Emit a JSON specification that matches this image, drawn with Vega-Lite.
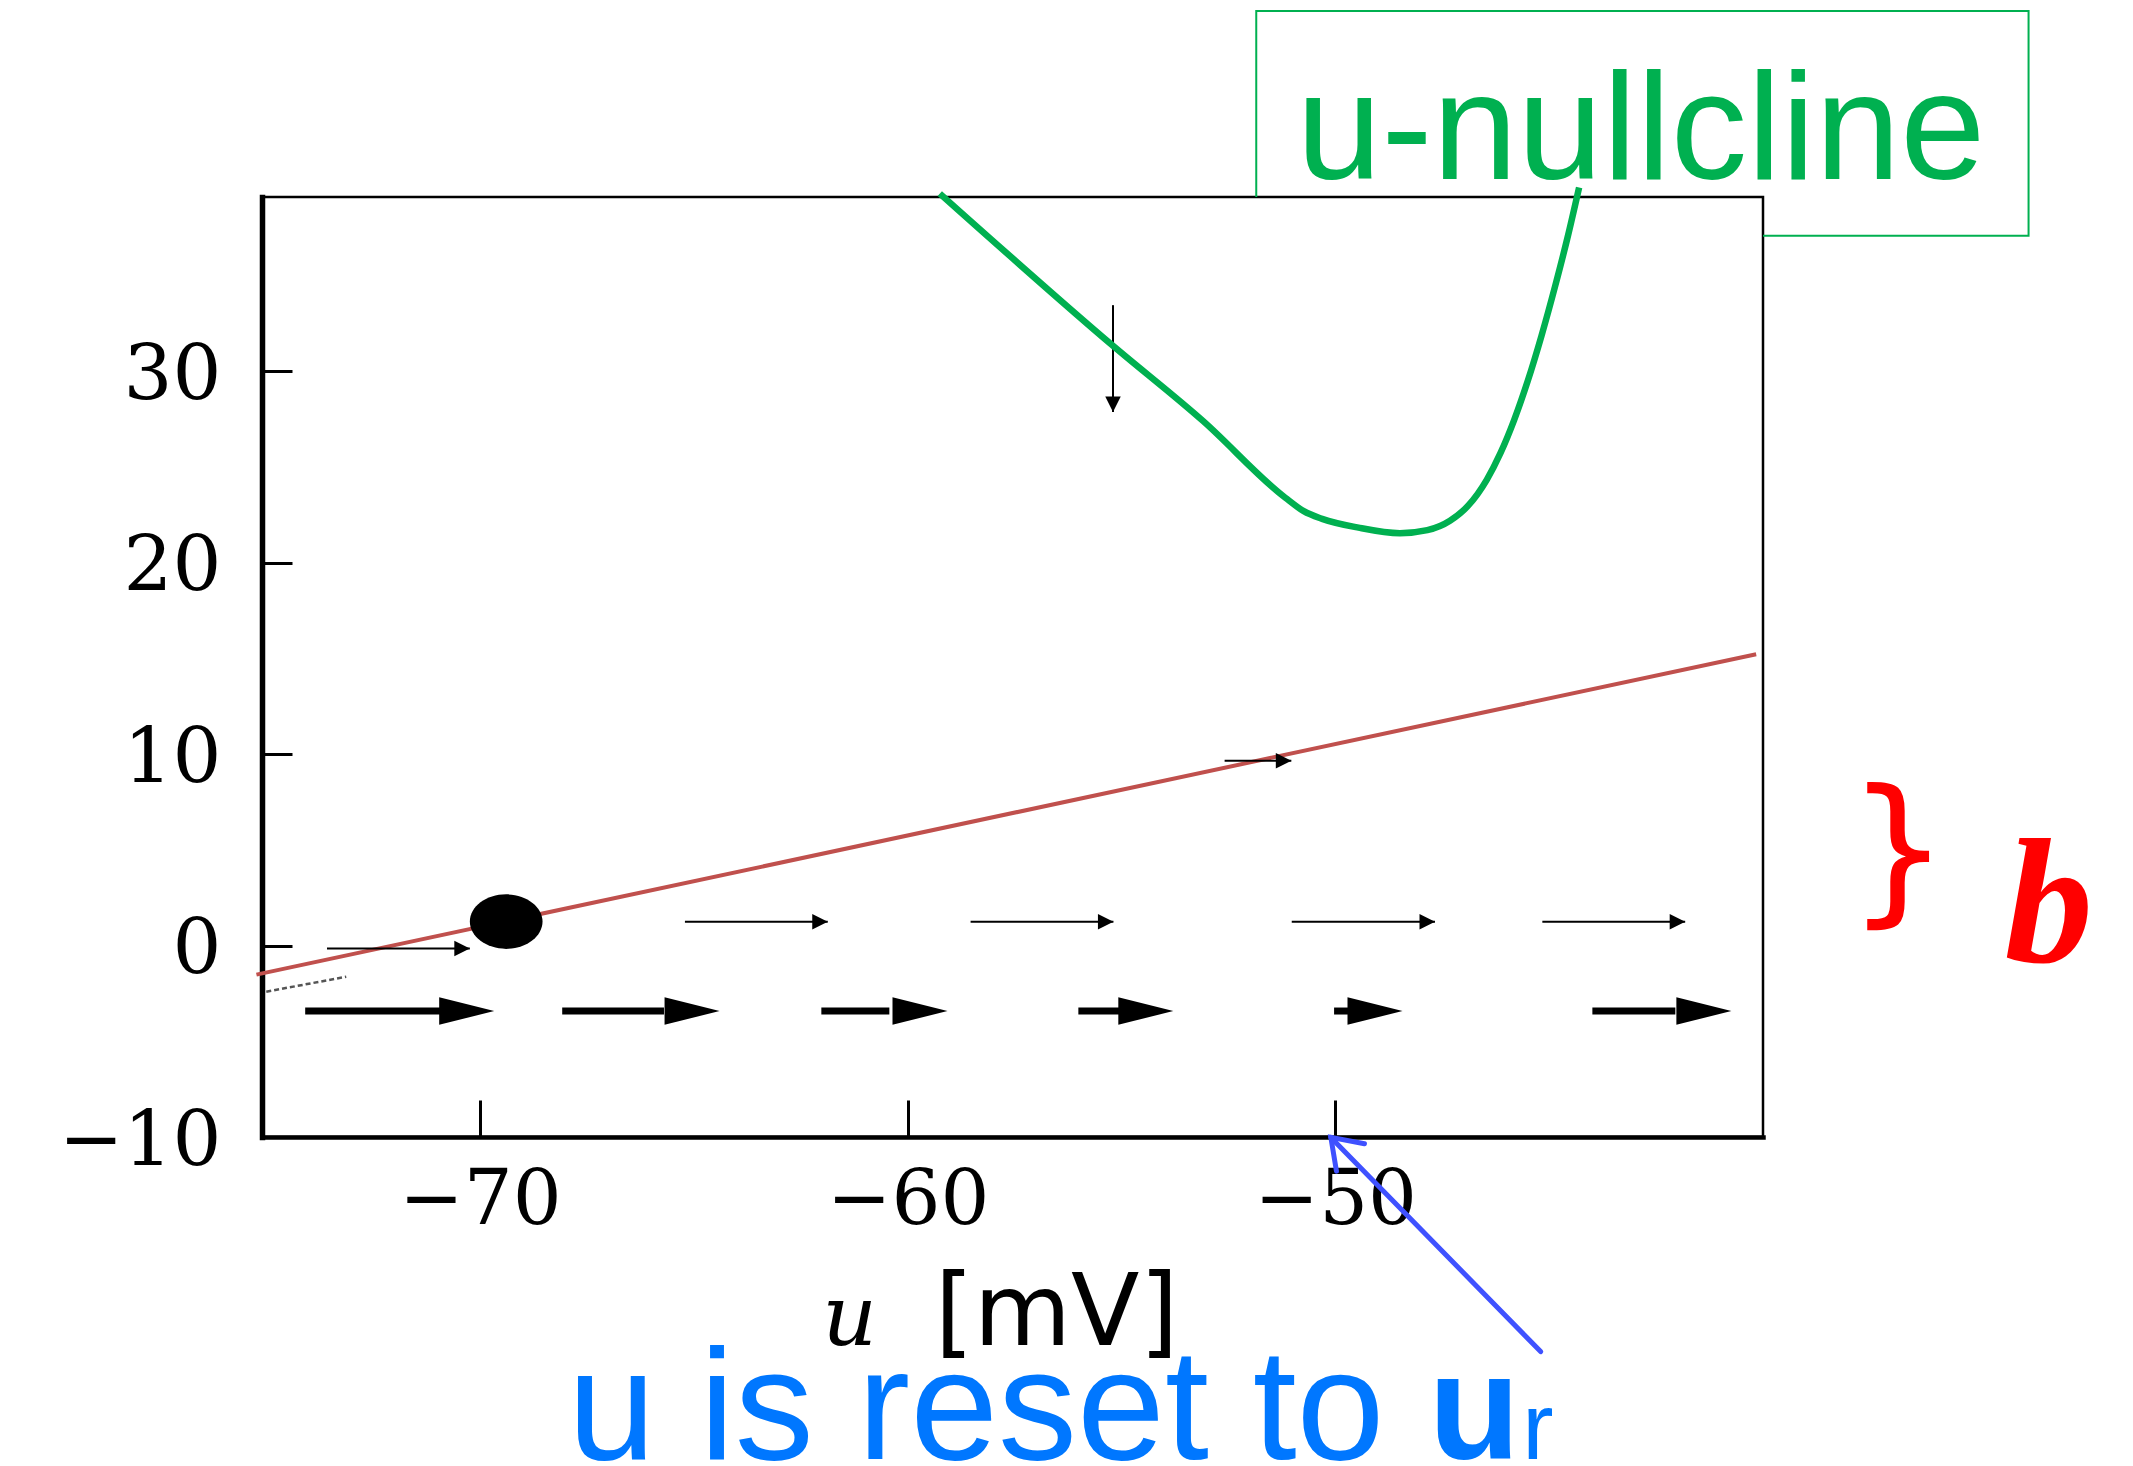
{
  "$schema": "https://vega.github.io/schema/vega-lite/v6.json",
  "width": 1501,
  "height": 940,
  "autosize": {"type": "none"},
  "padding": {"left": 262, "top": 197, "right": 370, "bottom": 329},
  "background": "white",
  "config": {
    "view": {"stroke": "black", "strokeWidth": 2.5},
    "axis": {"grid": false, "domainColor": "black", "tickColor": "black", "labelColor": "black", "labelFont": "DejaVu Serif", "labelFontSize": 77, "tickWidth": 3, "labelFlush": false, "labelOverlap": false, "domainCap": "square"},
    "axisX": {"tickSize": -37, "labelPadding": 62, "domainWidth": 4.5},
    "axisY": {"tickSize": -30, "labelPadding": 71, "labelOffset": 4, "labelBaseline": "middle", "domainWidth": 5.5}
  },
  "datasets": {
    "wNullcline": [{"u": -75.23, "w": -1.52}, {"u": -40.16, "w": 15.22}],
    "trajectory": [{"u": -75.0, "w": -2.41}, {"u": -73.13, "w": -1.63}],
    "uNullcline": [
      {"i": 1, "u": -59.25, "w": 39.28}, {"i": 2, "u": -55.18, "w": 31.29}, {"i": 3, "u": -53.09, "w": 27.39},
      {"i": 4, "u": -51.17, "w": 23.39}, {"i": 5, "u": -50.74, "w": 22.69}, {"i": 6, "u": -50.31, "w": 22.29},
      {"i": 7, "u": -49.46, "w": 21.83}, {"i": 8, "u": -48.49, "w": 21.54}, {"i": 9, "u": -47.85, "w": 21.7},
      {"i": 10, "u": -47.32, "w": 22.19}, {"i": 11, "u": -46.89, "w": 22.99}, {"i": 12, "u": -46.46, "w": 24.33},
      {"i": 13, "u": -46.14, "w": 25.72}, {"i": 14, "u": -45.82, "w": 27.45}, {"i": 15, "u": -45.5, "w": 29.5},
      {"i": 16, "u": -45.18, "w": 31.85}, {"i": 17, "u": -44.86, "w": 34.45}, {"i": 18, "u": -44.58, "w": 36.9},
      {"i": 19, "u": -44.3, "w": 39.6}
    ],
    "thickArrows": [
      {"u1": -74.09, "neck": -70.91, "tip": -69.67, "w": -3.42},
      {"u1": -68.08, "neck": -65.7, "tip": -64.4, "w": -3.42},
      {"u1": -62.02, "neck": -60.43, "tip": -59.07, "w": -3.42},
      {"u1": -56.01, "neck": -55.04, "tip": -53.79, "w": -3.42},
      {"u1": -50.03, "neck": -49.68, "tip": -48.43, "w": -3.42},
      {"u1": -43.99, "neck": -42.05, "tip": -40.74, "w": -3.42}
    ],
    "thinArrows": [
      {"u1": -73.58, "w1": -0.15, "u2": -70.24, "w2": -0.15, "dir": 0},
      {"u1": -65.21, "w1": 1.24, "u2": -61.87, "w2": 1.24, "dir": 0},
      {"u1": -58.53, "w1": 1.24, "u2": -55.19, "w2": 1.24, "dir": 0},
      {"u1": -51.02, "w1": 1.24, "u2": -47.67, "w2": 1.24, "dir": 0},
      {"u1": -45.16, "w1": 1.24, "u2": -41.82, "w2": 1.24, "dir": 0},
      {"u1": -52.59, "w1": 9.65, "u2": -51.03, "w2": 9.65, "dir": 0},
      {"u1": -55.2, "w1": 33.45, "u2": -55.2, "w2": 27.87, "dir": 90}
    ],
    "fixedPoint": [{"u": -69.39, "w": 1.25}],
    "labelBox": [
      {"i": 1, "u": -51.85, "w": 39.1}, {"i": 2, "u": -51.85, "w": 48.81}, {"i": 3, "u": -33.79, "w": 48.81},
      {"i": 4, "u": -33.79, "w": 37.08}, {"i": 5, "u": -40.0, "w": 37.08}
    ],
    "resetArrow": [{"u1": -45.2, "w1": -21.21, "u2": -50.105, "w2": -10.02}]
  },
  "layer": [
    {
      "data": {"name": "wNullcline"},
      "mark": {"type": "line", "color": "#C0504D", "strokeWidth": 4, "clip": false},
      "encoding": {
        "x": {"field": "u", "type": "quantitative", "scale": {"domain": [-75.1, -40], "nice": false, "zero": false}, "axis": {"title": null, "values": [-70, -60, -50], "domainWidth": 4.5}},
        "y": {"field": "w", "type": "quantitative", "scale": {"domain": [-10, 39.1], "nice": false, "zero": false}, "axis": {"title": null, "values": [-10, 0, 10, 20, 30], "domainWidth": 5.5}}
      }
    },
    {
      "data": {"name": "labelBox"},
      "mark": {"type": "line", "color": "#00B050", "strokeWidth": 2, "clip": false},
      "encoding": {
        "x": {"field": "u", "type": "quantitative", "scale": {"domain": [-75.1, -40], "nice": false, "zero": false}, "axis": {"title": null, "values": [-70, -60, -50], "domainWidth": 4.5}},
        "y": {"field": "w", "type": "quantitative", "scale": {"domain": [-10, 39.1], "nice": false, "zero": false}, "axis": {"title": null, "values": [-10, 0, 10, 20, 30], "domainWidth": 5.5}},
        "order": {"field": "i", "type": "quantitative"}
      }
    },
    {
      "data": {"name": "trajectory"},
      "mark": {"type": "line", "color": "#555555", "strokeWidth": 2.5, "strokeDash": [5, 3], "clip": false},
      "encoding": {
        "x": {"field": "u", "type": "quantitative", "scale": {"domain": [-75.1, -40], "nice": false, "zero": false}, "axis": {"title": null, "values": [-70, -60, -50], "domainWidth": 4.5}},
        "y": {"field": "w", "type": "quantitative", "scale": {"domain": [-10, 39.1], "nice": false, "zero": false}, "axis": {"title": null, "values": [-10, 0, 10, 20, 30], "domainWidth": 5.5}}
      }
    },
    {
      "data": {"name": "thickArrows"},
      "mark": {"type": "rule", "color": "black", "strokeWidth": 7, "strokeCap": "butt"},
      "encoding": {
        "x": {"field": "u1", "type": "quantitative", "scale": {"domain": [-75.1, -40], "nice": false, "zero": false}, "axis": {"title": null, "values": [-70, -60, -50], "domainWidth": 4.5}},
        "x2": {"field": "neck"},
        "y": {"field": "w", "type": "quantitative", "scale": {"domain": [-10, 39.1], "nice": false, "zero": false}, "axis": {"title": null, "values": [-10, 0, 10, 20, 30], "domainWidth": 5.5}}
      }
    },
    {
      "data": {"name": "thickArrows"},
      "mark": {"type": "point", "shape": "M 0 0 L -2 -0.5 L -2 0.5 Z", "filled": true, "color": "black", "opacity": 1, "size": 3025, "strokeWidth": 0},
      "encoding": {
        "x": {"field": "tip", "type": "quantitative", "scale": {"domain": [-75.1, -40], "nice": false, "zero": false}, "axis": {"title": null, "values": [-70, -60, -50], "domainWidth": 4.5}},
        "y": {"field": "w", "type": "quantitative", "scale": {"domain": [-10, 39.1], "nice": false, "zero": false}, "axis": {"title": null, "values": [-10, 0, 10, 20, 30], "domainWidth": 5.5}}
      }
    },
    {
      "data": {"name": "thinArrows"},
      "mark": {"type": "rule", "color": "black", "strokeWidth": 2, "strokeCap": "butt"},
      "encoding": {
        "x": {"field": "u1", "type": "quantitative", "scale": {"domain": [-75.1, -40], "nice": false, "zero": false}, "axis": {"title": null, "values": [-70, -60, -50], "domainWidth": 4.5}},
        "x2": {"field": "u2"},
        "y": {"field": "w1", "type": "quantitative", "scale": {"domain": [-10, 39.1], "nice": false, "zero": false}, "axis": {"title": null, "values": [-10, 0, 10, 20, 30], "domainWidth": 5.5}},
        "y2": {"field": "w2"}
      }
    },
    {
      "data": {"name": "thinArrows"},
      "mark": {"type": "point", "shape": "M 0 0 L -2 -1 L -2 1 Z", "filled": true, "color": "black", "opacity": 1, "size": 240, "strokeWidth": 0},
      "encoding": {
        "x": {"field": "u2", "type": "quantitative", "scale": {"domain": [-75.1, -40], "nice": false, "zero": false}, "axis": {"title": null, "values": [-70, -60, -50], "domainWidth": 4.5}},
        "y": {"field": "w2", "type": "quantitative", "scale": {"domain": [-10, 39.1], "nice": false, "zero": false}, "axis": {"title": null, "values": [-10, 0, 10, 20, 30], "domainWidth": 5.5}},
        "angle": {"field": "dir", "type": "quantitative", "scale": null}
      }
    },
    {
      "data": {"name": "fixedPoint"},
      "mark": {"type": "point", "shape": "M -1 0 C -1 -0.414 -0.552 -0.75 0 -0.75 C 0.552 -0.75 1 -0.414 1 0 C 1 0.414 0.552 0.75 0 0.75 C -0.552 0.75 -1 0.414 -1 0 Z", "filled": true, "color": "black", "opacity": 1, "size": 5285, "strokeWidth": 0},
      "encoding": {
        "x": {"field": "u", "type": "quantitative", "scale": {"domain": [-75.1, -40], "nice": false, "zero": false}, "axis": {"title": null, "values": [-70, -60, -50], "domainWidth": 4.5}},
        "y": {"field": "w", "type": "quantitative", "scale": {"domain": [-10, 39.1], "nice": false, "zero": false}, "axis": {"title": null, "values": [-10, 0, 10, 20, 30], "domainWidth": 5.5}}
      }
    },
    {
      "data": {"name": "uNullcline"},
      "mark": {"type": "line", "color": "#00B050", "strokeWidth": 6.5, "interpolate": "monotone", "clip": false},
      "encoding": {
        "x": {"field": "u", "type": "quantitative", "scale": {"domain": [-75.1, -40], "nice": false, "zero": false}, "axis": {"title": null, "values": [-70, -60, -50], "domainWidth": 4.5}},
        "y": {"field": "w", "type": "quantitative", "scale": {"domain": [-10, 39.1], "nice": false, "zero": false}, "axis": {"title": null, "values": [-10, 0, 10, 20, 30], "domainWidth": 5.5}},
        "order": {"field": "i", "type": "quantitative"}
      }
    },
    {
      "data": {"name": "resetArrow"},
      "mark": {"type": "rule", "color": "#3F51FF", "strokeWidth": 5, "strokeCap": "round"},
      "encoding": {
        "x": {"field": "u1", "type": "quantitative", "scale": {"domain": [-75.1, -40], "nice": false, "zero": false}, "axis": {"title": null, "values": [-70, -60, -50], "domainWidth": 4.5}},
        "x2": {"field": "u2"},
        "y": {"field": "w1", "type": "quantitative", "scale": {"domain": [-10, 39.1], "nice": false, "zero": false}, "axis": {"title": null, "values": [-10, 0, 10, 20, 30], "domainWidth": 5.5}},
        "y2": {"field": "w2"}
      }
    },
    {
      "data": {"name": "resetArrow"},
      "mark": {"type": "point", "shape": "M -1 -0.7 L 0 0 L -1 0.7", "filled": false, "stroke": "#3F51FF", "strokeWidth": 5, "opacity": 1, "size": 3136, "angle": 225.6, "strokeCap": "round", "strokeJoin": "miter"},
      "encoding": {
        "x": {"field": "u2", "type": "quantitative", "scale": {"domain": [-75.1, -40], "nice": false, "zero": false}, "axis": {"title": null, "values": [-70, -60, -50], "domainWidth": 4.5}},
        "y": {"field": "w2", "type": "quantitative", "scale": {"domain": [-10, 39.1], "nice": false, "zero": false}, "axis": {"title": null, "values": [-10, 0, 10, 20, 30], "domainWidth": 5.5}}
      }
    },
    {
      "data": {"values": [{"u": -50.91, "w": 40.04, "label": "u-nullcline"}]},
      "mark": {"type": "text", "align": "left", "baseline": "alphabetic", "font": "Liberation Sans", "fontSize": 153, "color": "#00B050", "clip": false},
      "encoding": {
        "x": {"field": "u", "type": "quantitative", "scale": {"domain": [-75.1, -40], "nice": false, "zero": false}, "axis": {"title": null, "values": [-70, -60, -50], "domainWidth": 4.5}},
        "y": {"field": "w", "type": "quantitative", "scale": {"domain": [-10, 39.1], "nice": false, "zero": false}, "axis": {"title": null, "values": [-10, 0, 10, 20, 30], "domainWidth": 5.5}},
        "text": {"field": "label"}
      }
    },
    {
      "data": {"values": [{"u": -62.0, "w": -20.86, "label": "u"}]},
      "mark": {"type": "text", "align": "left", "baseline": "alphabetic", "font": "DejaVu Serif", "fontStyle": "italic", "fontSize": 85, "color": "black", "clip": false},
      "encoding": {
        "x": {"field": "u", "type": "quantitative", "scale": {"domain": [-75.1, -40], "nice": false, "zero": false}, "axis": {"title": null, "values": [-70, -60, -50], "domainWidth": 4.5}},
        "y": {"field": "w", "type": "quantitative", "scale": {"domain": [-10, 39.1], "nice": false, "zero": false}, "axis": {"title": null, "values": [-10, 0, 10, 20, 30], "domainWidth": 5.5}},
        "text": {"field": "label"}
      }
    },
    {
      "data": {"values": [{"u": -59.37, "w": -20.86, "label": "[mV]"}]},
      "mark": {"type": "text", "align": "left", "baseline": "alphabetic", "font": "DejaVu Sans", "fontSize": 100, "color": "black", "clip": false},
      "encoding": {
        "x": {"field": "u", "type": "quantitative", "scale": {"domain": [-75.1, -40], "nice": false, "zero": false}, "axis": {"title": null, "values": [-70, -60, -50], "domainWidth": 4.5}},
        "y": {"field": "w", "type": "quantitative", "scale": {"domain": [-10, 39.1], "nice": false, "zero": false}, "axis": {"title": null, "values": [-10, 0, 10, 20, 30], "domainWidth": 5.5}},
        "text": {"field": "label"}
      }
    },
    {
      "data": {"values": [{"u": -67.95, "w": -26.81, "label": "u is reset to"}]},
      "mark": {"type": "text", "align": "left", "baseline": "alphabetic", "font": "Liberation Sans", "fontSize": 158, "color": "#0077FF", "clip": false},
      "encoding": {
        "x": {"field": "u", "type": "quantitative", "scale": {"domain": [-75.1, -40], "nice": false, "zero": false}, "axis": {"title": null, "values": [-70, -60, -50], "domainWidth": 4.5}},
        "y": {"field": "w", "type": "quantitative", "scale": {"domain": [-10, 39.1], "nice": false, "zero": false}, "axis": {"title": null, "values": [-10, 0, 10, 20, 30], "domainWidth": 5.5}},
        "text": {"field": "label"}
      }
    },
    {
      "data": {"values": [{"u": -47.82, "w": -26.81, "label": "u"}]},
      "mark": {"type": "text", "align": "left", "baseline": "alphabetic", "font": "Liberation Sans", "fontWeight": "bold", "fontSize": 150, "color": "#0077FF", "clip": false},
      "encoding": {
        "x": {"field": "u", "type": "quantitative", "scale": {"domain": [-75.1, -40], "nice": false, "zero": false}, "axis": {"title": null, "values": [-70, -60, -50], "domainWidth": 4.5}},
        "y": {"field": "w", "type": "quantitative", "scale": {"domain": [-10, 39.1], "nice": false, "zero": false}, "axis": {"title": null, "values": [-10, 0, 10, 20, 30], "domainWidth": 5.5}},
        "text": {"field": "label"}
      }
    },
    {
      "data": {"values": [{"u": -45.63, "w": -26.81, "label": "r"}]},
      "mark": {"type": "text", "align": "left", "baseline": "alphabetic", "font": "Liberation Sans", "fontSize": 94, "color": "#0077FF", "clip": false},
      "encoding": {
        "x": {"field": "u", "type": "quantitative", "scale": {"domain": [-75.1, -40], "nice": false, "zero": false}, "axis": {"title": null, "values": [-70, -60, -50], "domainWidth": 4.5}},
        "y": {"field": "w", "type": "quantitative", "scale": {"domain": [-10, 39.1], "nice": false, "zero": false}, "axis": {"title": null, "values": [-10, 0, 10, 20, 30], "domainWidth": 5.5}},
        "text": {"field": "label"}
      }
    },
    {
      "data": {"values": [{"u": -38.03, "w": 2.17, "label": "}"}]},
      "mark": {"type": "text", "align": "left", "baseline": "alphabetic", "font": "DejaVu Sans", "fontSize": 160, "color": "#FF0000", "clip": false},
      "encoding": {
        "x": {"field": "u", "type": "quantitative", "scale": {"domain": [-75.1, -40], "nice": false, "zero": false}, "axis": {"title": null, "values": [-70, -60, -50], "domainWidth": 4.5}},
        "y": {"field": "w", "type": "quantitative", "scale": {"domain": [-10, 39.1], "nice": false, "zero": false}, "axis": {"title": null, "values": [-10, 0, 10, 20, 30], "domainWidth": 5.5}},
        "text": {"field": "label"}
      }
    },
    {
      "data": {"values": [{"u": -34.35, "w": -0.85, "label": "b"}]},
      "mark": {"type": "text", "align": "left", "baseline": "alphabetic", "font": "Liberation Serif", "fontStyle": "italic", "fontWeight": "bold", "fontSize": 177, "color": "#FF0000", "clip": false},
      "encoding": {
        "x": {"field": "u", "type": "quantitative", "scale": {"domain": [-75.1, -40], "nice": false, "zero": false}, "axis": {"title": null, "values": [-70, -60, -50], "domainWidth": 4.5}},
        "y": {"field": "w", "type": "quantitative", "scale": {"domain": [-10, 39.1], "nice": false, "zero": false}, "axis": {"title": null, "values": [-10, 0, 10, 20, 30], "domainWidth": 5.5}},
        "text": {"field": "label"}
      }
    }
  ]
}
